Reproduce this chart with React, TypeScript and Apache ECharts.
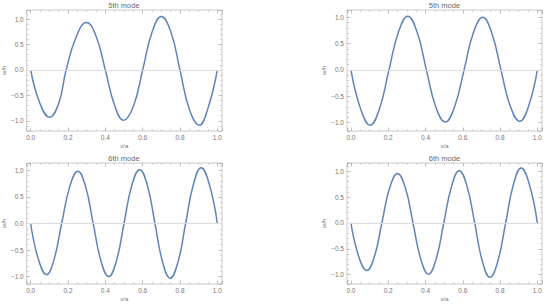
import React, { useEffect, useRef } from "react";
import * as echarts from "echarts";

// Panel 1: 5th mode (left)
const x1 = [0, 0.05, 0.101, 0.15, 0.19, 0.245, 0.299, 0.35, 0.4, 0.45, 0.498, 0.55, 0.6, 0.65, 0.7, 0.75, 0.8, 0.85, 0.904, 0.95, 1.0];
const y1 = [0, -0.66, -0.93, -0.66, 0, 0.66, 0.935, 0.67, 0, -0.7, -0.99, -0.72, 0, 0.74, 1.05, 0.76, 0, -0.77, -1.085, -0.75, 0];

// Panel 2: 5th mode (right)
const x2 = [0, 0.052, 0.103, 0.153, 0.204, 0.255, 0.305, 0.355, 0.405, 0.455, 0.506, 0.556, 0.607, 0.657, 0.707, 0.756, 0.805, 0.855, 0.906, 0.953, 1.0];
const y2 = [0, -0.74, -1.05, -0.74, 0, 0.72, 1.02, 0.72, 0, -0.7, -0.99, -0.7, 0, 0.71, 1.0, 0.7, 0, -0.69, -0.975, -0.69, 0];

// Panel 3: 6th mode (left)
const x3 = [0, 0.042, 0.085, 0.125, 0.166, 0.21, 0.253, 0.294, 0.335, 0.377, 0.418, 0.459, 0.5, 0.542, 0.584, 0.625, 0.666, 0.707, 0.747, 0.789, 0.83, 0.872, 0.913, 0.957, 1.0];
const y3 = [0, -0.68, -0.965, -0.68, 0, 0.7, 0.985, 0.7, 0, -0.71, -1.0, -0.71, 0, 0.72, 1.015, 0.72, 0, -0.73, -1.03, -0.73, 0, 0.74, 1.05, 0.74, 0];

// Panel 4: 6th mode (right)
const x4 = [0, 0.042, 0.085, 0.126, 0.166, 0.208, 0.25, 0.292, 0.333, 0.375, 0.416, 0.457, 0.498, 0.54, 0.581, 0.622, 0.664, 0.705, 0.746, 0.788, 0.83, 0.872, 0.913, 0.957, 1.0];
const y4 = [0, -0.65, -0.92, -0.65, 0, 0.68, 0.955, 0.68, 0, -0.7, -0.99, -0.7, 0, 0.71, 1.01, 0.72, 0, -0.74, -1.05, -0.74, 0, 0.75, 1.065, 0.75, 0];

const titles = ["5th mode", "5th mode", "6th mode", "6th mode"];
const xName = "x/a";
const yName = "w/h";
const yRanges: [number, number][] = [
  [-1.2, 1.18],
  [-1.16, 1.14],
  [-1.14, 1.14],
  [-1.18, 1.16],
];

const FONT = "Liberation Sans, Arial, sans-serif";
const LINE = "#6085B8";
const FRAME = "#bdbdbd";
const TEXT = "#777777";

export default function App() {
  const ref = useRef<HTMLDivElement>(null);
  useEffect(() => {
    if (!ref.current) return;
    const chart = echarts.init(ref.current, null, { renderer: "svg" });
    const grids = [
      { left: 26, top: 10, width: 196, height: 121 },
      { left: 347, top: 10, width: 195, height: 121 },
      { left: 26, top: 163, width: 196, height: 121 },
      { left: 347, top: 163, width: 195, height: 121 },
    ];
    const xs = [x1, x2, x3, x4];
    const ys = [y1, y2, y3, y4];
    const fmt = (v: number) => (v < 0 ? "\u2212" : "") + Math.abs(v).toFixed(1);

    const xAxis: any[] = [];
    const yAxis: any[] = [];
    const series: any[] = [];
    const graphic: any[] = [];

    grids.forEach((g, i) => {
      const tickBase = {
        inside: true,
        length: 3.5,
        lineStyle: { color: "#a8a8a8", width: 0.7 },
      };
      const minorBase = {
        show: true,
        length: 2,
        lineStyle: { color: "#b8b8b8", width: 0.6 },
      };
      const line = { show: false, onZero: false };
      // bottom
      xAxis.push({
        type: "value",
        gridIndex: i,
        position: "bottom",
        min: -0.021,
        max: 1.025,
        splitNumber: 5,
        axisLine: line,
        axisTick: tickBase,
        minorTick: { ...minorBase, splitNumber: 4 },
        splitLine: { show: false },
        axisLabel: {
          show: true,
          showMinLabel: false,
          showMaxLabel: false,
          formatter: fmt,
          color: TEXT,
          fontSize: 6.5,
          fontFamily: FONT,
          margin: 3,
        },
        name: xName,
        nameLocation: "middle",
        nameGap: 12,
        nameTextStyle: { color: TEXT, fontSize: 6, fontFamily: FONT },
      });
      // top
      xAxis.push({
        type: "value",
        gridIndex: i,
        position: "top",
        min: -0.021,
        max: 1.025,
        splitNumber: 5,
        axisLine: line,
        axisTick: tickBase,
        minorTick: { ...minorBase, splitNumber: 4 },
        splitLine: { show: false },
        axisLabel: { show: false },
      });
      // left
      yAxis.push({
        type: "value",
        gridIndex: i,
        position: "left",
        min: yRanges[i][0],
        max: yRanges[i][1],
        splitNumber: 5,
        axisLine: line,
        axisTick: tickBase,
        minorTick: { ...minorBase, splitNumber: 5 },
        splitLine: { show: false },
        axisLabel: {
          show: true,
          showMinLabel: false,
          showMaxLabel: false,
          formatter: fmt,
          color: TEXT,
          fontSize: 6.5,
          fontFamily: FONT,
          margin: 3,
        },
        name: yName,
        nameLocation: "middle",
        nameGap: 18,
        nameTextStyle: { color: TEXT, fontSize: 6, fontFamily: FONT },
      });
      // right
      yAxis.push({
        type: "value",
        gridIndex: i,
        position: "right",
        min: yRanges[i][0],
        max: yRanges[i][1],
        splitNumber: 5,
        axisLine: line,
        axisTick: tickBase,
        minorTick: { ...minorBase, splitNumber: 5 },
        splitLine: { show: false },
        axisLabel: { show: false },
      });

      series.push({
        type: "line",
        xAxisIndex: i * 2,
        yAxisIndex: i * 2,
        data: xs[i].map((x, k) => [x, ys[i][k]]),
        smooth: 0.45,
        showSymbol: false,
        symbol: "none",
        lineStyle: { color: LINE, width: 1.5 },
        markLine: {
          silent: true,
          symbol: "none",
          label: { show: false },
          lineStyle: { color: "#dcdcdc", width: 1, type: "solid" },
          data: [{ yAxis: 0 }],
        },
        z: 3,
      });

      graphic.push({
        type: "text",
        x: g.left + g.width / 2,
        y: g.top - 9,
        style: {
          text: titles[i],
          textAlign: "center",
          fontSize: 7.5,
          fontFamily: FONT,
          fill: "#6a6a6a",
        },
      });
    });

    chart.setOption({
      animation: false,
      backgroundColor: "#ffffff",
      grid: grids.map((g) => ({
        ...g,
        show: true,
        borderColor: FRAME,
        borderWidth: 0.8,
        backgroundColor: "transparent",
      })),
      xAxis,
      yAxis,
      series,
      graphic,
    });
    return () => chart.dispose();
  }, []);
  return (
    <div
      ref={ref}
      style={{ position: "absolute", left: 0, top: 0, width: 550, height: 306 }}
    />
  );
}
